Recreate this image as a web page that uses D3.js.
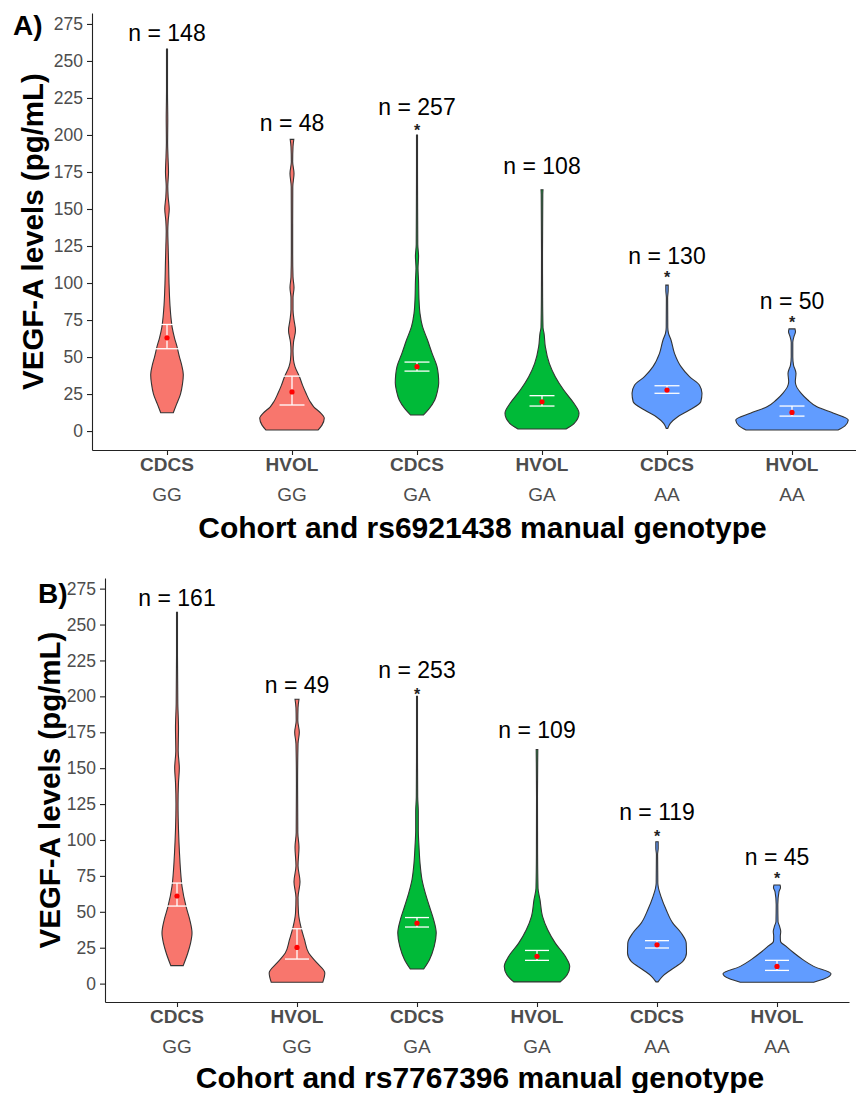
<!DOCTYPE html>
<html>
<head>
<meta charset="utf-8">
<script src="https://cdn.jsdelivr.net/npm/d3@7"></script>
<style>
    body { margin: 0; background: #fff; }
    text { font-family: "Liberation Sans", Arial, sans-serif; }
</style>
</head>
<body>
<svg id="chart" width="856" height="1093"></svg>
<script>
// Kategorien
var categories = ["CDCS_GG", "HVOL_GG", "CDCS_GA", "HVOL_GA", "CDCS_AA", "HVOL_AA"];
var cohortLabels = ["CDCS", "HVOL", "CDCS", "HVOL", "CDCS", "HVOL"];
var genotypeLabels = ["GG", "GG", "GA", "GA", "AA", "AA"];
var genotypeColors = {GG: "#F8766D", GA: "#00BA38", AA: "#619CFF"};
var yTicks = [0, 25, 50, 75, 100, 125, 150, 175, 200, 225, 250, 275];

// Panel A: rs6921438
var nA = [148, 48, 257, 108, 130, 50];
var nLabelYA = [263.5, 202.7, 213.5, 173.6, 112.8, 82.4];
var starYA = [null, null, 205.4, null, 106, 75.7];
var meanA = [63, 26.4, 43.5, 19.8, 27.7, 12.6];
var lowA = [55.6, 17.6, 40.5, 16.9, 25.5, 10.1];
var highA = [72, 37.1, 46.6, 23.9, 30.6, 16.9];

// Violin-Profile: [Wert, relative Dichte]
var violinA_CDCS_GG = [[12.4, 0.112], [18, 0.169], [25, 0.24], [32, 0.276], [38, 0.29], [45, 0.258], [50, 0.222],
    [57, 0.178], [63, 0.133], [70, 0.092], [75, 0.075], [85, 0.053], [100, 0.036], [115, 0.027], [125, 0.02],
    [135, 0.014], [142, 0.021], [150, 0.04], [158, 0.021], [165, 0.014], [175, 0.027], [185, 0.018],
    [195, 0.011], [210, 0.014], [230, 0.009], [258, 0.009]];
var violinA_HVOL_GG = [[0.7, 0.462], [4, 0.533], [8.8, 0.574], [12, 0.516], [16.4, 0.386], [20, 0.32],
    [25.5, 0.249], [31, 0.187], [36.7, 0.133], [43.5, 0.053], [48, 0.027], [54, 0.018], [60, 0.027],
    [68, 0.062], [75, 0.036], [82, 0.018], [90, 0.018], [97, 0.036], [104, 0.018], [120, 0.012],
    [140, 0.012], [165, 0.014], [174, 0.036], [182, 0.012], [192, 0.018], [197, 0.032]];
var violinA_CDCS_GA = [[10.8, 0.112], [15, 0.213], [21, 0.316], [27, 0.364], [32.4, 0.386], [38, 0.379],
    [43.5, 0.356], [52.6, 0.267], [61.5, 0.187], [70.5, 0.098], [79.5, 0.053], [88.5, 0.036], [102, 0.027],
    [110, 0.018], [118, 0.028], [126, 0.014], [150, 0.011], [180, 0.009], [200, 0.009]];
var violinA_HVOL_GA = [[1.4, 0.427], [5, 0.569], [12, 0.658], [18.9, 0.564], [27.7, 0.386], [36.7, 0.236],
    [45.7, 0.13], [57, 0.059], [66, 0.036], [70, 0.018], [90, 0.011], [120, 0.009], [160, 0.014], [163, 0.018]];
var violinA_CDCS_AA = [[1.8, 0.014], [5.2, 0.059], [9.7, 0.192], [14.2, 0.4], [19.8, 0.601], [25.5, 0.622],
    [31, 0.578], [36.7, 0.4], [43.5, 0.249], [52.5, 0.133], [61.5, 0.071], [66, 0.027], [70, 0.014],
    [90, 0.011], [95, 0.021], [98.6, 0.021]];
var violinA_HVOL_AA = [[0.7, 0.818], [3.5, 0.942], [7.4, 1.0], [12, 0.741], [16.4, 0.444], [21, 0.281],
    [25.5, 0.164], [30, 0.08], [33.3, 0.059], [39, 0.071], [44.6, 0.027], [50, 0.014], [60, 0.014],
    [64, 0.036], [67, 0.062], [69, 0.053]];

// Panel B: rs7767396
var nB = [161, 49, 253, 109, 119, 45];
var nLabelYB = [263, 202, 212.5, 170.8, 113.9, 82.6];
var starYB = [null, null, 204, null, 105, 75.7];
var meanB = [61, 25.2, 42.1, 19, 27, 12];
var lowB = [54, 17.1, 39.4, 16.2, 24.8, 9.2];
var highB = [70, 38.2, 46, 23.1, 29.9, 16.2];

var violinB_CDCS_GG = [[12.5, 0.115], [21.3, 0.2], [28, 0.25], [35.2, 0.278], [44.4, 0.237], [53.7, 0.167],
    [67.6, 0.093], [79, 0.065], [91, 0.046], [107, 0.028], [125, 0.019], [140, 0.028], [150, 0.043],
    [162, 0.022], [178, 0.028], [195, 0.015], [230, 0.009], [258.5, 0.009]];
var violinB_HVOL_GG = [[1, 0.478], [7.4, 0.515], [14.4, 0.37], [21.3, 0.217], [30.6, 0.139], [39.8, 0.07],
    [49, 0.028], [60, 0.019], [71, 0.056], [82, 0.019], [95, 0.037], [105, 0.015], [140, 0.011],
    [167, 0.019], [175, 0.043], [183, 0.015], [192, 0.019], [198, 0.037]];
var violinB_CDCS_GA = [[10.2, 0.124], [16.7, 0.231], [25.9, 0.319], [35.2, 0.356], [44.4, 0.309], [53.7, 0.231],
    [63, 0.154], [72.3, 0.093], [83.8, 0.056], [95.4, 0.037], [107, 0.024], [120, 0.024], [130, 0.013],
    [170, 0.009], [200, 0.009]];
var violinB_HVOL_GA = [[1.2, 0.431], [6, 0.556], [12, 0.606], [19, 0.524], [28.2, 0.339], [37.5, 0.198],
    [46.8, 0.102], [58.3, 0.056], [66.4, 0.019], [90, 0.011], [130, 0.009], [163, 0.015]];
var violinB_CDCS_AA = [[1.2, 0.019], [5.1, 0.102], [9.7, 0.263], [15.5, 0.478], [21.3, 0.546], [28.3, 0.541],
    [35.2, 0.448], [42.1, 0.293], [51.4, 0.17], [60.6, 0.074], [66.4, 0.028], [70, 0.015], [90, 0.011],
    [94, 0.022], [98.8, 0.022]];
var violinB_HVOL_AA = [[0.9, 0.68], [3.5, 0.889], [6.9, 1.0], [12, 0.68], [16.7, 0.478], [21.3, 0.315],
    [25.9, 0.17], [29.4, 0.065], [33, 0.061], [36.3, 0.069], [40, 0.046], [43.3, 0.019], [55, 0.015],
    [64, 0.037], [67, 0.065], [68.7, 0.056]];

var svg = d3.select("#chart");

function drawPanel(p) {

    var g = svg.append("g");

    var xScale = d3.scalePoint().domain(categories).range([p.left, p.right]).padding(0.6);
    var yScale = d3.scaleLinear().domain([-12.8, 282.4]).range([p.bottom, p.top]);
    var wScale = d3.scaleLinear().domain([0, 1]).range([0, xScale.step() * 0.45]);
    var capHalf = xScale.step() * 0.1;

    // Violinen
    p.violins.forEach(function (profile, i) {
        var cx = xScale(categories[i]);
        var area = d3.area()
            .y(function (d) { return yScale(d[0]); })
            .x0(function (d) { return cx - wScale(d[1]); })
            .x1(function (d) { return cx + wScale(d[1]); })
            .curve(d3.curveMonotoneY);
        g.append("path")
            .attr("d", area(profile))
            .attr("fill", genotypeColors[genotypeLabels[i]])
            .attr("stroke", "#333")
            .attr("stroke-width", 1.1);
    });

    // Fehlerbalken
    categories.forEach(function (c, i) {
        var cx = xScale(c);
        var eb = g.append("g").attr("stroke", "#fff").attr("stroke-width", 1.3);
        eb.append("line").attr("x1", cx).attr("x2", cx)
            .attr("y1", yScale(p.low[i])).attr("y2", yScale(p.high[i]));
        eb.append("line").attr("x1", cx - capHalf).attr("x2", cx + capHalf)
            .attr("y1", yScale(p.low[i])).attr("y2", yScale(p.low[i]));
        eb.append("line").attr("x1", cx - capHalf).attr("x2", cx + capHalf)
            .attr("y1", yScale(p.high[i])).attr("y2", yScale(p.high[i]));
    });

    g.selectAll(".mean")
        .data(p.mean)
        .enter().append("circle")
        .attr("class", "mean")
        .attr("cx", function (d, i) { return xScale(categories[i]); })
        .attr("cy", function (d) { return yScale(d); })
        .attr("r", 2.6)
        .attr("fill", "#ff0000");

    // n = ... Beschriftung
    g.selectAll(".nlabel")
        .data(p.n)
        .enter().append("text")
        .attr("class", "nlabel")
        .attr("x", function (d, i) { return xScale(categories[i]); })
        .attr("y", function (d, i) { return yScale(p.nY[i]); })
        .attr("text-anchor", "middle")
        .attr("font-size", 23)
        .attr("fill", "#000")
        .text(function (d) { return "n = " + d; });

    g.selectAll(".star")
        .data(p.starY)
        .enter().filter(function (d) { return d !== null; }).append("text")
        .attr("class", "star")
        .attr("x", function (d) { return xScale(categories[p.starY.indexOf(d)]); })
        .attr("y", function (d) { return yScale(d) + 9; })
        .attr("text-anchor", "middle")
        .attr("font-size", 16)
        .attr("font-weight", "bold")
        .attr("fill", "#222")
        .text("*");

    // Y-Achse
    var yAxis = g.append("g")
        .attr("transform", "translate(" + p.left + ",0)")
        .call(d3.axisLeft(yScale).tickValues(yTicks).tickSize(5).tickSizeOuter(0).tickPadding(4));
    yAxis.selectAll("text")
        .attr("font-size", 17.5)
        .attr("font-family", "Liberation Sans, Arial, sans-serif")
        .attr("fill", "#4d4d4d");

    // X-Achse
    var xAxis = g.append("g")
        .attr("transform", "translate(0," + p.bottom + ")")
        .call(d3.axisBottom(xScale).tickSize(5).tickSizeOuter(0).tickFormat(""));

    [yAxis, xAxis].forEach(function (a) {
        a.select(".domain").attr("stroke", "#222").attr("stroke-width", 1.1);
        a.selectAll(".tick line").attr("stroke", "#222").attr("stroke-width", 1.1);
    });

    g.selectAll(".cohort")
        .data(cohortLabels)
        .enter().append("text")
        .attr("x", function (d, i) { return xScale(categories[i]); })
        .attr("y", p.bottom + 21)
        .attr("text-anchor", "middle")
        .attr("font-size", 19)
        .attr("font-weight", "bold")
        .attr("fill", "#4d4d4d")
        .text(function (d) { return d; });

    g.selectAll(".genotype")
        .data(genotypeLabels)
        .enter().append("text")
        .attr("x", function (d, i) { return xScale(categories[i]); })
        .attr("y", p.bottom + 51)
        .attr("text-anchor", "middle")
        .attr("font-size", 19)
        .attr("fill", "#4d4d4d")
        .text(function (d) { return d; });

    // Achsentitel
    g.append("text")
        .attr("x", (p.left + p.right) / 2 + 3)
        .attr("y", p.bottom + p.xTitleOffset)
        .attr("text-anchor", "middle")
        .attr("font-size", 30)
        .attr("font-weight", "bold")
        .attr("fill", "#000")
        .text(p.xTitle);

    g.append("text")
        .attr("transform", "translate(" + p.yTitleX + "," + ((p.top + p.bottom) / 2) + ") rotate(-90)")
        .attr("text-anchor", "middle")
        .attr("font-size", 29.5)
        .attr("font-weight", "bold")
        .attr("fill", "#000")
        .text("VEGF-A levels (pg/mL)");

    g.append("text")
        .attr("x", p.tagX)
        .attr("y", p.tagY)
        .attr("font-size", 28)
        .attr("font-weight", "bold")
        .attr("fill", "#000")
        .text(p.tag);
}

drawPanel({
    left: 92, right: 867, top: 13, bottom: 450,
    violins: [violinA_CDCS_GG, violinA_HVOL_GG, violinA_CDCS_GA, violinA_HVOL_GA, violinA_CDCS_AA, violinA_HVOL_AA],
    n: nA, nY: nLabelYA, starY: starYA, mean: meanA, low: lowA, high: highA,
    xTitle: "Cohort and rs6921438 manual genotype", xTitleOffset: 88,
    yTitleX: 43, tag: "A)", tagX: 13, tagY: 35
});

drawPanel({
    left: 105, right: 849, top: 578, bottom: 1002,
    violins: [violinB_CDCS_GG, violinB_HVOL_GG, violinB_CDCS_GA, violinB_HVOL_GA, violinB_CDCS_AA, violinB_HVOL_AA],
    n: nB, nY: nLabelYB, starY: starYB, mean: meanB, low: lowB, high: highB,
    xTitle: "Cohort and rs7767396 manual genotype", xTitleOffset: 86,
    yTitleX: 60, tag: "B)", tagX: 38, tagY: 603
});
</script>
</body>
</html>
